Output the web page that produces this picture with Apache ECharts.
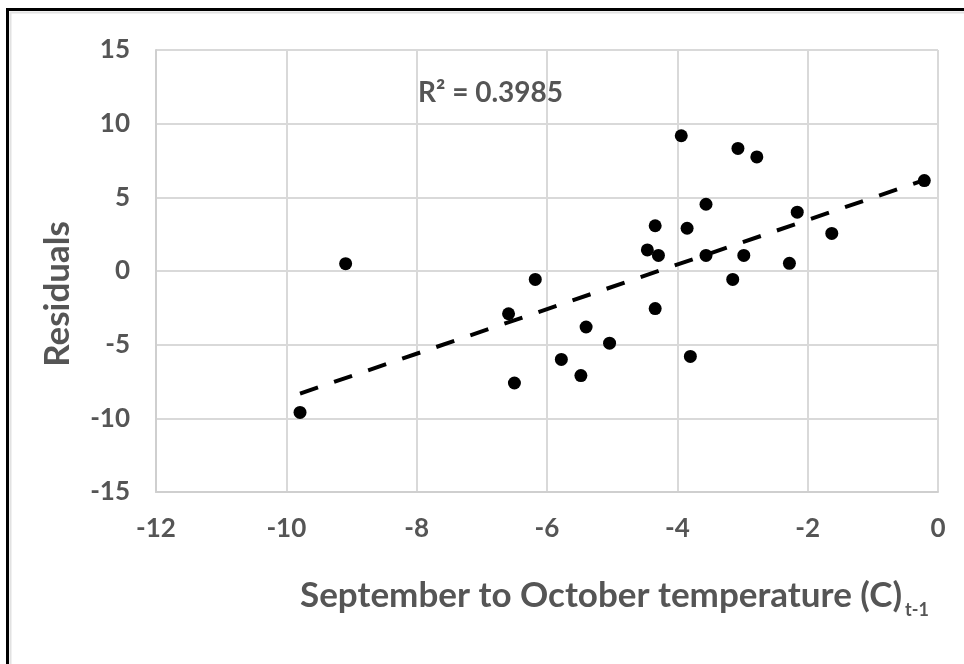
<!DOCTYPE html>
<html><head><meta charset="utf-8">
<script src="https://cdn.jsdelivr.net/npm/echarts/dist/echarts.min.js"></script>
<style>html,body{margin:0;padding:0;background:#fff}#c{width:964px;height:664px}</style>
</head><body><div id="c"></div>
<script>
// Data
const tempX  = [-9.79,-9.09,-6.59,-6.50,-6.18,-5.78,-5.48,-5.40,-5.04,-4.46,-4.34,-4.29,-4.34,-3.94,-3.85,-3.80,-3.56,-3.56,-3.15,-3.07,-2.98,-2.78,-2.28,-2.16,-1.63,-0.21];
const residY = [-9.6,0.5,-2.9,-7.6,-0.57,-6.0,-7.1,-3.8,-4.9,1.43,3.07,1.06,-2.55,9.18,2.9,-5.8,4.53,1.06,-0.57,8.32,1.06,7.74,0.52,3.99,2.55,6.14];
const trendX = [-9.79,-0.21];
const trendY = [-8.32,6.17];
const xTicks = [-12,-10,-8,-6,-4,-2,0];
const yTicks = [-15,-10,-5,0,5,10,15];
const rSquaredText = 'R\u00B2 = 0.3985';
const xTitle = 'September to October temperature (C)';
const xTitleSub = 't-1';
const yTitle = 'Residuals';

const FONT = 'Lato, "Liberation Sans", sans-serif';
const TXT = '#555555';
const chart = echarts.init(document.getElementById('c'), null, {renderer:'canvas'});
chart.setOption({
  backgroundColor:'#fff',
  animation:false,
  grid:{left:156,right:26,top:50,bottom:172,containLabel:false},
  xAxis:{type:'value',min:xTicks[0],max:xTicks[xTicks.length-1],interval:xTicks[1]-xTicks[0],
    axisLine:{show:true,onZero:false,lineStyle:{color:'#cfcfcf',width:2}},
    axisTick:{show:false},
    splitLine:{show:true,lineStyle:{color:'#d9d9d9',width:2}},
    axisLabel:{margin:24,fontFamily:FONT,fontWeight:'bold',fontSize:26,color:TXT}},
  yAxis:{type:'value',min:yTicks[0],max:yTicks[yTicks.length-1],interval:yTicks[1]-yTicks[0],
    axisLine:{show:true,onZero:false,lineStyle:{color:'#cfcfcf',width:2}},
    axisTick:{show:false},
    splitLine:{show:true,lineStyle:{color:'#d9d9d9',width:2}},
    axisLabel:{margin:26,fontFamily:FONT,fontWeight:'bold',fontSize:26,color:TXT}},
  series:[
    {type:'line',data:trendX.map((x,i)=>[x,trendY[i]]),symbol:'none',z:2,
     lineStyle:{color:'#000',width:4,type:[19,17],cap:'butt'}},
    {type:'scatter',data:tempX.map((x,i)=>[x,residY[i]]),symbol:'circle',symbolSize:13,z:3,
     itemStyle:{color:'#000',opacity:1}}
  ],
  graphic:[
    {type:'rect',shape:{x:7.5,y:9.5,width:1000,height:1000},style:{fill:'none',stroke:'#000',lineWidth:3},z:10},
    {type:'rect',shape:{x:10.5,y:12.5,width:1000,height:1000},style:{fill:'none',stroke:'#e2e2e2',lineWidth:2},z:9},
    {type:'text',x:418,y:93,style:{text:rSquaredText,fontFamily:FONT,fontWeight:'bold',fontSize:28,fill:TXT,align:'left',verticalAlign:'middle'}},
    {type:'text',x:902,y:596,style:{text:xTitle,fontFamily:FONT,fontWeight:'bold',fontSize:35,fill:TXT,align:'right',verticalAlign:'middle'}},
    {type:'text',x:905,y:610,style:{text:xTitleSub,fontFamily:FONT,fontWeight:'bold',fontSize:18,fill:TXT,align:'left',verticalAlign:'middle'}},
    {type:'text',x:58,y:294,rotation:Math.PI/2,style:{text:yTitle,fontFamily:FONT,fontWeight:'bold',fontSize:35,fill:TXT,align:'center',verticalAlign:'middle'}}
  ]
});
</script></body></html>
